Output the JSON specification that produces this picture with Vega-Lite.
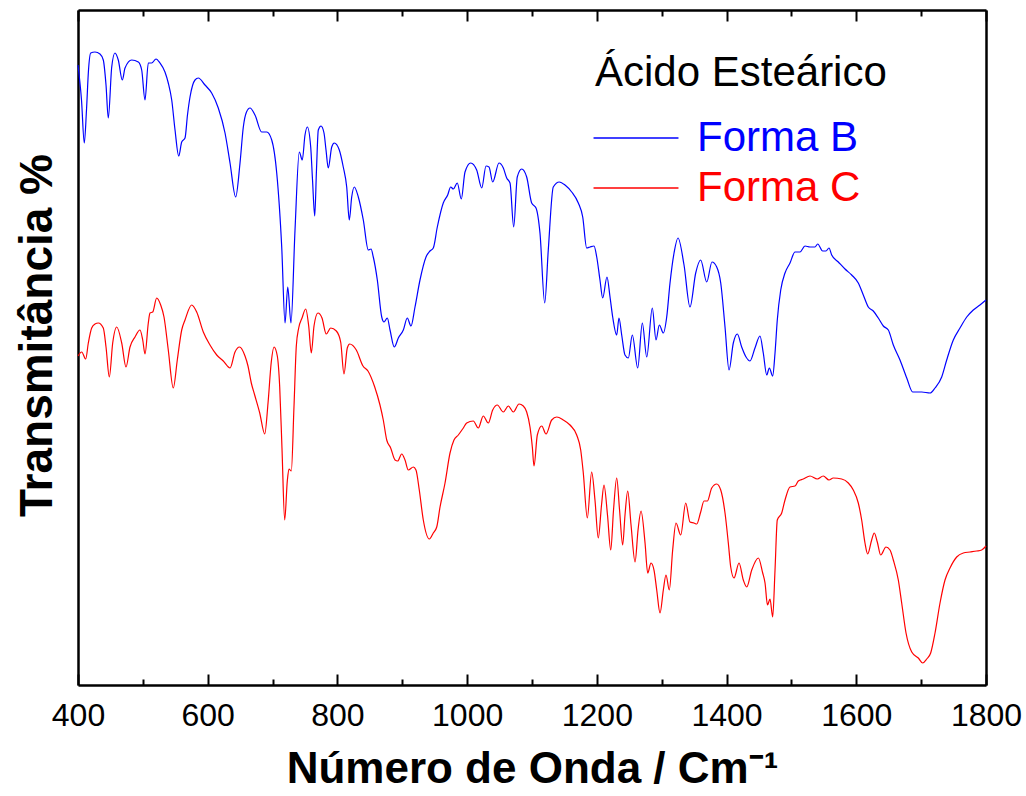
{
  "$schema": "https://vega.github.io/schema/vega-lite/v6.json",
  "width": 908,
  "height": 675,
  "autosize": {"type": "none"},
  "padding": {"left": 78, "top": 10, "right": 40, "bottom": 111},
  "background": "white",
  "config": {"view": {"stroke": null}, "font": "Liberation Sans", "axis": {"grid": false}},
  "data": {"values": [
    {"forma":"Forma B","onda":400,"T":620},{"forma":"Forma B","onda":405.4,"T":585},{"forma":"Forma B","onda":409.7,"T":542},{"forma":"Forma B","onda":413.1,"T":575},{"forma":"Forma B","onda":416.2,"T":615},{"forma":"Forma B","onda":419.6,"T":632},{"forma":"Forma B","onda":426.2,"T":633},{"forma":"Forma B","onda":433.9,"T":631},{"forma":"Forma B","onda":439,"T":625},{"forma":"Forma B","onda":443.2,"T":600},
    {"forma":"Forma B","onda":446.7,"T":567},{"forma":"Forma B","onda":452,"T":618},{"forma":"Forma B","onda":457,"T":632},{"forma":"Forma B","onda":462.1,"T":625},{"forma":"Forma B","onda":468.3,"T":605},{"forma":"Forma B","onda":472.5,"T":617},{"forma":"Forma B","onda":482.8,"T":625},{"forma":"Forma B","onda":493,"T":623},{"forma":"Forma B","onda":498.2,"T":615},{"forma":"Forma B","onda":503.3,"T":585},
    {"forma":"Forma B","onda":508.4,"T":622},{"forma":"Forma B","onda":513.6,"T":622},{"forma":"Forma B","onda":520.3,"T":626},{"forma":"Forma B","onda":526.4,"T":622},{"forma":"Forma B","onda":534.1,"T":613},{"forma":"Forma B","onda":539.2,"T":602},{"forma":"Forma B","onda":544.5,"T":585},{"forma":"Forma B","onda":549.6,"T":555},{"forma":"Forma B","onda":555.3,"T":529},{"forma":"Forma B","onda":559.9,"T":543},
    {"forma":"Forma B","onda":565,"T":547},{"forma":"Forma B","onda":568.8,"T":570},{"forma":"Forma B","onda":572.7,"T":588},{"forma":"Forma B","onda":580.4,"T":605},{"forma":"Forma B","onda":585.5,"T":607},{"forma":"Forma B","onda":595.8,"T":600},{"forma":"Forma B","onda":606.1,"T":592},{"forma":"Forma B","onda":616.3,"T":577},{"forma":"Forma B","onda":626.7,"T":552},{"forma":"Forma B","onda":634.4,"T":522},
    {"forma":"Forma B","onda":643.1,"T":488},{"forma":"Forma B","onda":649.8,"T":522},{"forma":"Forma B","onda":654.9,"T":558},{"forma":"Forma B","onda":659.8,"T":573},{"forma":"Forma B","onda":665.2,"T":577},{"forma":"Forma B","onda":672.9,"T":570},{"forma":"Forma B","onda":683.2,"T":553},{"forma":"Forma B","onda":691,"T":553},{"forma":"Forma B","onda":698.7,"T":545},{"forma":"Forma B","onda":706.4,"T":512},
    {"forma":"Forma B","onda":714.1,"T":438},{"forma":"Forma B","onda":719.2,"T":362},{"forma":"Forma B","onda":723.4,"T":398},{"forma":"Forma B","onda":728.4,"T":362},{"forma":"Forma B","onda":734.6,"T":455},{"forma":"Forma B","onda":741.2,"T":533},{"forma":"Forma B","onda":745.8,"T":525},{"forma":"Forma B","onda":750,"T":550},{"forma":"Forma B","onda":753.6,"T":558},{"forma":"Forma B","onda":758.8,"T":538},
    {"forma":"Forma B","onda":761.6,"T":505},{"forma":"Forma B","onda":765,"T":469},{"forma":"Forma B","onda":767.7,"T":515},{"forma":"Forma B","onda":770.5,"T":555},{"forma":"Forma B","onda":774.7,"T":559},{"forma":"Forma B","onda":779.3,"T":552},{"forma":"Forma B","onda":782.4,"T":535},{"forma":"Forma B","onda":785.9,"T":517},{"forma":"Forma B","onda":791.2,"T":538},{"forma":"Forma B","onda":795.2,"T":542},
    {"forma":"Forma B","onda":802.9,"T":535},{"forma":"Forma B","onda":809,"T":518},{"forma":"Forma B","onda":814.3,"T":498},{"forma":"Forma B","onda":818.3,"T":465},{"forma":"Forma B","onda":822,"T":488},{"forma":"Forma B","onda":826,"T":498},{"forma":"Forma B","onda":832.2,"T":488},{"forma":"Forma B","onda":839.9,"T":465},{"forma":"Forma B","onda":847.6,"T":435},{"forma":"Forma B","onda":851.8,"T":436},
    {"forma":"Forma B","onda":855.3,"T":428},{"forma":"Forma B","onda":861.5,"T":405},{"forma":"Forma B","onda":868.3,"T":368},{"forma":"Forma B","onda":871.8,"T":363},{"forma":"Forma B","onda":876.9,"T":367},{"forma":"Forma B","onda":881.1,"T":355},{"forma":"Forma B","onda":887.7,"T":338},{"forma":"Forma B","onda":893.9,"T":347},{"forma":"Forma B","onda":901.6,"T":355},{"forma":"Forma B","onda":907.7,"T":367},
    {"forma":"Forma B","onda":913.4,"T":359},{"forma":"Forma B","onda":919.6,"T":378},{"forma":"Forma B","onda":927.3,"T":405},{"forma":"Forma B","onda":936.6,"T":428},{"forma":"Forma B","onda":942.7,"T":434},{"forma":"Forma B","onda":947.8,"T":437},{"forma":"Forma B","onda":954,"T":458},{"forma":"Forma B","onda":963.2,"T":482},{"forma":"Forma B","onda":970,"T":490},{"forma":"Forma B","onda":974.6,"T":498},
    {"forma":"Forma B","onda":978.7,"T":496},{"forma":"Forma B","onda":984.8,"T":502},{"forma":"Forma B","onda":991,"T":486},{"forma":"Forma B","onda":996.7,"T":513},{"forma":"Forma B","onda":1005.5,"T":522},{"forma":"Forma B","onda":1014.7,"T":515},{"forma":"Forma B","onda":1022.5,"T":497},{"forma":"Forma B","onda":1029.1,"T":519},{"forma":"Forma B","onda":1033.7,"T":518},{"forma":"Forma B","onda":1039.4,"T":503},
    {"forma":"Forma B","onda":1049.1,"T":522},{"forma":"Forma B","onda":1055.8,"T":517},{"forma":"Forma B","onda":1061,"T":507},{"forma":"Forma B","onda":1066.1,"T":502},{"forma":"Forma B","onda":1071.8,"T":458},{"forma":"Forma B","onda":1077.3,"T":508},{"forma":"Forma B","onda":1084.1,"T":516},{"forma":"Forma B","onda":1091.8,"T":508},{"forma":"Forma B","onda":1099.5,"T":482},{"forma":"Forma B","onda":1106.2,"T":477},
    {"forma":"Forma B","onda":1112.3,"T":452},{"forma":"Forma B","onda":1119.6,"T":382},{"forma":"Forma B","onda":1125.1,"T":435},{"forma":"Forma B","onda":1132.8,"T":498},{"forma":"Forma B","onda":1142.1,"T":503},{"forma":"Forma B","onda":1150.9,"T":500},{"forma":"Forma B","onda":1161.2,"T":493},{"forma":"Forma B","onda":1171.4,"T":482},{"forma":"Forma B","onda":1178.2,"T":468},{"forma":"Forma B","onda":1184.3,"T":437},
    {"forma":"Forma B","onda":1189.4,"T":438},{"forma":"Forma B","onda":1195.6,"T":439},{"forma":"Forma B","onda":1199.8,"T":428},{"forma":"Forma B","onda":1204.8,"T":405},{"forma":"Forma B","onda":1209,"T":387},{"forma":"Forma B","onda":1215.6,"T":408},{"forma":"Forma B","onda":1220.3,"T":388},{"forma":"Forma B","onda":1224.4,"T":368},{"forma":"Forma B","onda":1230.6,"T":350},{"forma":"Forma B","onda":1234.1,"T":367},
    {"forma":"Forma B","onda":1238.3,"T":350},{"forma":"Forma B","onda":1243.4,"T":330},{"forma":"Forma B","onda":1248.5,"T":327},{"forma":"Forma B","onda":1254.7,"T":350},{"forma":"Forma B","onda":1263,"T":317},{"forma":"Forma B","onda":1270.1,"T":362},{"forma":"Forma B","onda":1276.9,"T":328},{"forma":"Forma B","onda":1285.5,"T":377},{"forma":"Forma B","onda":1291.2,"T":345},{"forma":"Forma B","onda":1296.3,"T":360},
    {"forma":"Forma B","onda":1302.5,"T":352},{"forma":"Forma B","onda":1307.7,"T":368},{"forma":"Forma B","onda":1312.8,"T":402},{"forma":"Forma B","onda":1319,"T":432},{"forma":"Forma B","onda":1325.1,"T":447},{"forma":"Forma B","onda":1334.4,"T":420},{"forma":"Forma B","onda":1343.6,"T":378},{"forma":"Forma B","onda":1352.4,"T":412},{"forma":"Forma B","onda":1360.1,"T":425},{"forma":"Forma B","onda":1369.4,"T":403},
    {"forma":"Forma B","onda":1377.5,"T":423},{"forma":"Forma B","onda":1384.8,"T":418},{"forma":"Forma B","onda":1391,"T":402},{"forma":"Forma B","onda":1397.6,"T":358},{"forma":"Forma B","onda":1403.8,"T":315},{"forma":"Forma B","onda":1410.4,"T":342},{"forma":"Forma B","onda":1416.6,"T":351},{"forma":"Forma B","onda":1423.3,"T":338},{"forma":"Forma B","onda":1430,"T":328},{"forma":"Forma B","onda":1436.1,"T":324},
    {"forma":"Forma B","onda":1443.8,"T":337},{"forma":"Forma B","onda":1451.5,"T":349},{"forma":"Forma B","onda":1456.6,"T":332},{"forma":"Forma B","onda":1461.9,"T":310},{"forma":"Forma B","onda":1465.9,"T":317},{"forma":"Forma B","onda":1471.1,"T":309},{"forma":"Forma B","onda":1474.7,"T":332},{"forma":"Forma B","onda":1478.2,"T":365},{"forma":"Forma B","onda":1483.5,"T":395},{"forma":"Forma B","onda":1490.1,"T":412},
    {"forma":"Forma B","onda":1497.8,"T":422},{"forma":"Forma B","onda":1505.5,"T":433},{"forma":"Forma B","onda":1513.2,"T":433},{"forma":"Forma B","onda":1520.9,"T":439},{"forma":"Forma B","onda":1528.6,"T":438},{"forma":"Forma B","onda":1536.3,"T":438},{"forma":"Forma B","onda":1540.5,"T":441},{"forma":"Forma B","onda":1548.2,"T":434},{"forma":"Forma B","onda":1553.3,"T":434},{"forma":"Forma B","onda":1557.9,"T":437},
    {"forma":"Forma B","onda":1562.1,"T":430},{"forma":"Forma B","onda":1572.3,"T":423},{"forma":"Forma B","onda":1582.6,"T":416},{"forma":"Forma B","onda":1592.9,"T":410},{"forma":"Forma B","onda":1603.1,"T":402},{"forma":"Forma B","onda":1610.8,"T":390},{"forma":"Forma B","onda":1618.5,"T":378},{"forma":"Forma B","onda":1626.2,"T":374},{"forma":"Forma B","onda":1633.9,"T":367},{"forma":"Forma B","onda":1641.7,"T":359},
    {"forma":"Forma B","onda":1649.4,"T":355},{"forma":"Forma B","onda":1657.1,"T":340},{"forma":"Forma B","onda":1667.4,"T":325},{"forma":"Forma B","onda":1677.8,"T":307},{"forma":"Forma B","onda":1687,"T":293},{"forma":"Forma B","onda":1700.9,"T":293},{"forma":"Forma B","onda":1713.7,"T":292},{"forma":"Forma B","onda":1721.4,"T":297},{"forma":"Forma B","onda":1731.7,"T":308},{"forma":"Forma B","onda":1739.4,"T":325},
    {"forma":"Forma B","onda":1749.6,"T":345},{"forma":"Forma B","onda":1759.9,"T":357},{"forma":"Forma B","onda":1770.3,"T":368},{"forma":"Forma B","onda":1780.4,"T":375},{"forma":"Forma B","onda":1790.7,"T":380},{"forma":"Forma B","onda":1800,"T":385},
    {"forma":"Forma C","onda":400,"T":329},{"forma":"Forma C","onda":405.7,"T":333},{"forma":"Forma C","onda":411.9,"T":326},{"forma":"Forma C","onda":415.9,"T":342},{"forma":"Forma C","onda":421.1,"T":357},{"forma":"Forma C","onda":426.2,"T":361},{"forma":"Forma C","onda":431.3,"T":362},{"forma":"Forma C","onda":439,"T":357},{"forma":"Forma C","onda":443.2,"T":338},{"forma":"Forma C","onda":448.3,"T":308},
    {"forma":"Forma C","onda":453.5,"T":342},{"forma":"Forma C","onda":459.7,"T":358},{"forma":"Forma C","onda":467.4,"T":342},{"forma":"Forma C","onda":474,"T":318},{"forma":"Forma C","onda":480.2,"T":338},{"forma":"Forma C","onda":487.9,"T":348},{"forma":"Forma C","onda":495.6,"T":355},{"forma":"Forma C","onda":499.8,"T":345},{"forma":"Forma C","onda":503.3,"T":331},{"forma":"Forma C","onda":508.4,"T":362},
    {"forma":"Forma C","onda":511,"T":372},{"forma":"Forma C","onda":515.2,"T":373},{"forma":"Forma C","onda":521.3,"T":387},{"forma":"Forma C","onda":527.5,"T":380},{"forma":"Forma C","onda":532.6,"T":368},{"forma":"Forma C","onda":539.2,"T":335},{"forma":"Forma C","onda":546.9,"T":297},{"forma":"Forma C","onda":553.1,"T":325},{"forma":"Forma C","onda":559.9,"T":355},{"forma":"Forma C","onda":565,"T":365},
    {"forma":"Forma C","onda":575.3,"T":380},{"forma":"Forma C","onda":583,"T":373},{"forma":"Forma C","onda":593.2,"T":353},{"forma":"Forma C","onda":603.5,"T":340},{"forma":"Forma C","onda":613.9,"T":330},{"forma":"Forma C","onda":624,"T":324},{"forma":"Forma C","onda":634.4,"T":317},{"forma":"Forma C","onda":642.1,"T":333},{"forma":"Forma C","onda":649,"T":338},{"forma":"Forma C","onda":657.5,"T":329},
    {"forma":"Forma C","onda":662.1,"T":319},{"forma":"Forma C","onda":667.2,"T":302},{"forma":"Forma C","onda":672.4,"T":290},{"forma":"Forma C","onda":680.2,"T":272},{"forma":"Forma C","onda":687.9,"T":251},{"forma":"Forma C","onda":693,"T":282},{"forma":"Forma C","onda":698,"T":323},{"forma":"Forma C","onda":702.2,"T":338},{"forma":"Forma C","onda":707.3,"T":329},{"forma":"Forma C","onda":711,"T":298},
    {"forma":"Forma C","onda":714.5,"T":237},{"forma":"Forma C","onda":718.7,"T":165},{"forma":"Forma C","onda":722.7,"T":204},{"forma":"Forma C","onda":725.3,"T":216},{"forma":"Forma C","onda":728.9,"T":214},{"forma":"Forma C","onda":733,"T":278},{"forma":"Forma C","onda":736.6,"T":339},{"forma":"Forma C","onda":740.3,"T":357},{"forma":"Forma C","onda":745.4,"T":367},{"forma":"Forma C","onda":751.1,"T":376},
    {"forma":"Forma C","onda":755.7,"T":359},{"forma":"Forma C","onda":759.7,"T":332},{"forma":"Forma C","onda":763.9,"T":359},{"forma":"Forma C","onda":770,"T":372},{"forma":"Forma C","onda":776.2,"T":367},{"forma":"Forma C","onda":782.8,"T":351},{"forma":"Forma C","onda":789.6,"T":357},{"forma":"Forma C","onda":798.3,"T":354},{"forma":"Forma C","onda":805,"T":343},{"forma":"Forma C","onda":810.1,"T":311},
    {"forma":"Forma C","onda":815.2,"T":337},{"forma":"Forma C","onda":818.9,"T":341},{"forma":"Forma C","onda":829.1,"T":335},{"forma":"Forma C","onda":839.4,"T":319},{"forma":"Forma C","onda":847.1,"T":314},{"forma":"Forma C","onda":857.5,"T":298},{"forma":"Forma C","onda":865.6,"T":280},{"forma":"Forma C","onda":870.7,"T":265},{"forma":"Forma C","onda":876,"T":245},{"forma":"Forma C","onda":882.1,"T":237},
    {"forma":"Forma C","onda":888.8,"T":225},{"forma":"Forma C","onda":892.9,"T":224},{"forma":"Forma C","onda":899.1,"T":231},{"forma":"Forma C","onda":904.2,"T":225},{"forma":"Forma C","onda":909.3,"T":215},{"forma":"Forma C","onda":917,"T":218},{"forma":"Forma C","onda":921.1,"T":215},{"forma":"Forma C","onda":926.2,"T":195},{"forma":"Forma C","onda":932.4,"T":165},{"forma":"Forma C","onda":941.7,"T":146},
    {"forma":"Forma C","onda":947.8,"T":152},{"forma":"Forma C","onda":953.1,"T":158},{"forma":"Forma C","onda":958.2,"T":178},{"forma":"Forma C","onda":965.9,"T":202},{"forma":"Forma C","onda":973.6,"T":232},{"forma":"Forma C","onda":979.7,"T":245},{"forma":"Forma C","onda":986.4,"T":250},{"forma":"Forma C","onda":994.1,"T":257},{"forma":"Forma C","onda":999.3,"T":262},{"forma":"Forma C","onda":1009.5,"T":264},
    {"forma":"Forma C","onda":1017.2,"T":257},{"forma":"Forma C","onda":1024.9,"T":269},{"forma":"Forma C","onda":1032.6,"T":262},{"forma":"Forma C","onda":1039.4,"T":275},{"forma":"Forma C","onda":1046.5,"T":280},{"forma":"Forma C","onda":1055.8,"T":273},{"forma":"Forma C","onda":1063.5,"T":279},{"forma":"Forma C","onda":1071.2,"T":273},{"forma":"Forma C","onda":1080,"T":281},{"forma":"Forma C","onda":1086.6,"T":279},
    {"forma":"Forma C","onda":1091.8,"T":273},{"forma":"Forma C","onda":1096.9,"T":258},{"forma":"Forma C","onda":1100.5,"T":238},{"forma":"Forma C","onda":1103.1,"T":219},{"forma":"Forma C","onda":1108.2,"T":250},{"forma":"Forma C","onda":1115,"T":259},{"forma":"Forma C","onda":1121.6,"T":251},{"forma":"Forma C","onda":1130.4,"T":265},{"forma":"Forma C","onda":1138.1,"T":268},{"forma":"Forma C","onda":1148.3,"T":265},
    {"forma":"Forma C","onda":1158.6,"T":260},{"forma":"Forma C","onda":1168.9,"T":250},{"forma":"Forma C","onda":1175.1,"T":235},{"forma":"Forma C","onda":1179.1,"T":212},{"forma":"Forma C","onda":1185.3,"T":167},{"forma":"Forma C","onda":1192,"T":213},{"forma":"Forma C","onda":1197.1,"T":185},{"forma":"Forma C","onda":1202.2,"T":147},{"forma":"Forma C","onda":1207.2,"T":180},{"forma":"Forma C","onda":1211,"T":200},
    {"forma":"Forma C","onda":1216.4,"T":170},{"forma":"Forma C","onda":1221.4,"T":135},{"forma":"Forma C","onda":1225.7,"T":175},{"forma":"Forma C","onda":1230.6,"T":207},{"forma":"Forma C","onda":1235,"T":175},{"forma":"Forma C","onda":1239.8,"T":140},{"forma":"Forma C","onda":1243.4,"T":170},{"forma":"Forma C","onda":1247.6,"T":194},{"forma":"Forma C","onda":1252.7,"T":160},{"forma":"Forma C","onda":1258.9,"T":123},
    {"forma":"Forma C","onda":1263.5,"T":155},{"forma":"Forma C","onda":1268.1,"T":174},{"forma":"Forma C","onda":1274.3,"T":142},{"forma":"Forma C","onda":1278.4,"T":112},{"forma":"Forma C","onda":1283.5,"T":122},{"forma":"Forma C","onda":1288.1,"T":115},{"forma":"Forma C","onda":1292.3,"T":95},{"forma":"Forma C","onda":1297.4,"T":72},{"forma":"Forma C","onda":1302.5,"T":95},{"forma":"Forma C","onda":1306.6,"T":110},
    {"forma":"Forma C","onda":1311.7,"T":95},{"forma":"Forma C","onda":1316.9,"T":135},{"forma":"Forma C","onda":1322,"T":162},{"forma":"Forma C","onda":1329.3,"T":150},{"forma":"Forma C","onda":1337,"T":182},{"forma":"Forma C","onda":1343.6,"T":163},{"forma":"Forma C","onda":1349.8,"T":162},{"forma":"Forma C","onda":1354,"T":161},{"forma":"Forma C","onda":1360.1,"T":173},{"forma":"Forma C","onda":1365.2,"T":184},
    {"forma":"Forma C","onda":1370.3,"T":184},{"forma":"Forma C","onda":1377.1,"T":197},{"forma":"Forma C","onda":1384.8,"T":201},{"forma":"Forma C","onda":1391,"T":195},{"forma":"Forma C","onda":1397.6,"T":172},{"forma":"Forma C","onda":1402.7,"T":142},{"forma":"Forma C","onda":1406.4,"T":118},{"forma":"Forma C","onda":1411.5,"T":107},{"forma":"Forma C","onda":1419.2,"T":122},{"forma":"Forma C","onda":1425.8,"T":105},
    {"forma":"Forma C","onda":1431.1,"T":98},{"forma":"Forma C","onda":1438.8,"T":115},{"forma":"Forma C","onda":1449,"T":127},{"forma":"Forma C","onda":1455.7,"T":112},{"forma":"Forma C","onda":1459.3,"T":102},{"forma":"Forma C","onda":1463.1,"T":80},{"forma":"Forma C","onda":1467,"T":86},{"forma":"Forma C","onda":1471.1,"T":68},{"forma":"Forma C","onda":1474.7,"T":115},{"forma":"Forma C","onda":1478.2,"T":165},
    {"forma":"Forma C","onda":1485,"T":172},{"forma":"Forma C","onda":1490.1,"T":185},{"forma":"Forma C","onda":1497.8,"T":198},{"forma":"Forma C","onda":1505.5,"T":199},{"forma":"Forma C","onda":1510.6,"T":204},{"forma":"Forma C","onda":1518.3,"T":206},{"forma":"Forma C","onda":1528.6,"T":209},{"forma":"Forma C","onda":1539.9,"T":206},{"forma":"Forma C","onda":1549.1,"T":209},{"forma":"Forma C","onda":1557.9,"T":205},
    {"forma":"Forma C","onda":1564.5,"T":207},{"forma":"Forma C","onda":1577.5,"T":206},{"forma":"Forma C","onda":1587.7,"T":202},{"forma":"Forma C","onda":1595.4,"T":195},{"forma":"Forma C","onda":1603.1,"T":182},{"forma":"Forma C","onda":1608.3,"T":165},{"forma":"Forma C","onda":1613.4,"T":142},{"forma":"Forma C","onda":1617.6,"T":131},{"forma":"Forma C","onda":1623.7,"T":145},{"forma":"Forma C","onda":1627.7,"T":152},
    {"forma":"Forma C","onda":1632.4,"T":143},{"forma":"Forma C","onda":1637.6,"T":130},{"forma":"Forma C","onda":1645.8,"T":138},{"forma":"Forma C","onda":1652,"T":135},{"forma":"Forma C","onda":1657.1,"T":125},{"forma":"Forma C","onda":1664.8,"T":105},{"forma":"Forma C","onda":1670,"T":82},{"forma":"Forma C","onda":1676.7,"T":52},{"forma":"Forma C","onda":1685.5,"T":33},{"forma":"Forma C","onda":1695.6,"T":27},
    {"forma":"Forma C","onda":1702.4,"T":22},{"forma":"Forma C","onda":1708.6,"T":26},{"forma":"Forma C","onda":1714.7,"T":32},{"forma":"Forma C","onda":1721.4,"T":52},{"forma":"Forma C","onda":1729.1,"T":82},{"forma":"Forma C","onda":1736.8,"T":105},{"forma":"Forma C","onda":1744.5,"T":117},{"forma":"Forma C","onda":1754.8,"T":128},{"forma":"Forma C","onda":1765,"T":132},{"forma":"Forma C","onda":1775.3,"T":133},
    {"forma":"Forma C","onda":1785.6,"T":134},{"forma":"Forma C","onda":1793.3,"T":135},{"forma":"Forma C","onda":1800,"T":139}
  ]},
  "layer": [
    {
      "transform": [{"filter": "datum.forma === 'Forma B'"}],
      "mark": {"type": "line", "interpolate": "monotone", "strokeWidth": 1.2},
      "encoding": {
        "x": {"field": "onda", "type": "quantitative",
          "scale": {"domain": [400, 1800], "nice": false, "zero": false},
          "axis": {"orient": "bottom", "values": [400,500,600,700,800,900,1000,1100,1200,1300,1400,1500,1600,1700,1800],
            "format": "d", "labelExpr": "datum.value % 200 === 0 ? datum.label : ''",
            "tickSize": {"condition": {"test": "datum.value % 200 === 0", "value": -11}, "value": -6},
            "tickWidth": 2, "tickColor": "black", "domainColor": "black", "domainWidth": 2.5,
            "labelFontSize": 32, "labelColor": "black", "labelPadding": 26, "labelFlush": false, "labelOverlap": false,
            "title": "Número de Onda / Cm⁻¹", "titleFontSize": 44, "titleFontWeight": "bold", "titleColor": "black", "titlePadding": 11}},
        "y": {"field": "T", "type": "quantitative",
          "scale": {"domain": [0, 675], "nice": false, "zero": false},
          "axis": {"orient": "left", "ticks": false, "labels": false, "domainColor": "black", "domainWidth": 2.5,
            "title": "Transmitância %", "titleFontSize": 46, "titleFontWeight": "bold", "titleColor": "black", "titlePadding": 17, "titleY": 325}},
        "color": {"field": "forma", "type": "nominal",
          "scale": {"domain": ["Forma B", "Forma C"], "range": ["#0000ff", "#ff0000"]},
          "legend": {"orient": "none", "legendX": 517, "legendY": 43, "padding": 0,
            "title": "Ácido Esteárico", "titleFontSize": 42, "titleFontWeight": "normal", "titleColor": "black", "titlePadding": 22, "titleLimit": 600,
            "labelFontSize": 42, "labelLimit": 600, "rowPadding": 8,
            "symbolType": "M-4,0H4", "symbolSize": 451, "symbolStrokeWidth": 1.5, "symbolOffset": 20, "labelOffset": 40,
            "encode": {"labels": {"update": {"fill": {"signal": "datum.value === 'Forma B' ? '#0000ff' : '#ff0000'"}}}}}}
      }
    },
    {
      "transform": [{"filter": "datum.forma === 'Forma C'"}],
      "mark": {"type": "line", "interpolate": "monotone", "strokeWidth": 1.2},
      "encoding": {
        "x": {"field": "onda", "type": "quantitative",
          "scale": {"domain": [400, 1800], "nice": false, "zero": false},
          "axis": {"orient": "top", "values": [400,500,600,700,800,900,1000,1100,1200,1300,1400,1500,1600,1700,1800],
            "labels": false, "title": null,
            "tickSize": {"condition": {"test": "datum.value % 200 === 0", "value": -11}, "value": -6},
            "tickWidth": 2, "tickColor": "black", "domainColor": "black", "domainWidth": 2.5}},
        "y": {"field": "T", "type": "quantitative",
          "scale": {"domain": [0, 675], "nice": false, "zero": false},
          "axis": {"orient": "right", "ticks": false, "labels": false, "title": null, "domainColor": "black", "domainWidth": 2.5}},
        "color": {"field": "forma", "type": "nominal",
          "scale": {"domain": ["Forma B", "Forma C"], "range": ["#0000ff", "#ff0000"]}}
      }
    }
  ],
  "resolve": {"axis": {"x": "independent", "y": "independent"}}
}
